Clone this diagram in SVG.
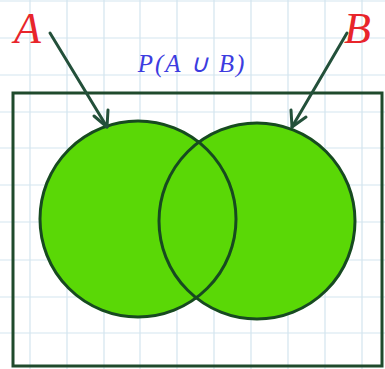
<svg xmlns="http://www.w3.org/2000/svg" width="385" height="369" viewBox="0 0 385 369">
<defs>
<style>
.grid line{stroke:#d3e5ef;stroke-width:1.2}
.frame{fill:none;stroke:#1f4a2c;stroke-width:3}
.set{fill:#5ad806;stroke:#174a20;stroke-width:3}
.conn{fill:none;stroke:#23503a;stroke-width:3;stroke-linecap:round;stroke-linejoin:round}
.lbl{font-family:"Liberation Serif",serif;font-style:italic;fill:#e8252b}
.title{font-family:"Liberation Serif",serif;font-style:italic;fill:#3c3ce0}
</style>
<clipPath id="clipB"><circle cx="257" cy="221" r="100"/></clipPath>
</defs>
<rect width="385" height="369" fill="#ffffff"/>
<g class="grid">
<line x1="30" y1="0" x2="30" y2="369"/><line x1="67" y1="0" x2="67" y2="369"/><line x1="104" y1="0" x2="104" y2="369"/><line x1="140" y1="0" x2="140" y2="369"/><line x1="177" y1="0" x2="177" y2="369"/><line x1="214" y1="0" x2="214" y2="369"/><line x1="251" y1="0" x2="251" y2="369"/><line x1="288" y1="0" x2="288" y2="369"/><line x1="325" y1="0" x2="325" y2="369"/><line x1="362" y1="0" x2="362" y2="369"/>
<line x1="0" y1="1" x2="385" y2="1"/><line x1="0" y1="38" x2="385" y2="38"/><line x1="0" y1="75" x2="385" y2="75"/><line x1="0" y1="112" x2="385" y2="112"/><line x1="0" y1="148" x2="385" y2="148"/><line x1="0" y1="185" x2="385" y2="185"/><line x1="0" y1="222" x2="385" y2="222"/><line x1="0" y1="260" x2="385" y2="260"/><line x1="0" y1="297" x2="385" y2="297"/><line x1="0" y1="333" x2="385" y2="333"/>
</g>
<rect id="universe" class="frame" x="13" y="93" width="369" height="273"/>
<g id="setA"><circle class="set" cx="138" cy="219" r="98"/></g>
<g id="setB"><circle class="set" cx="257" cy="221" r="98"/></g>
<g id="setAEdge"><circle cx="138" cy="219" r="98" fill="none" stroke="#174a20" stroke-width="3" clip-path="url(#clipB)"/></g>
<g id="connectors">
<path class="conn" d="M50 33 L107 127"/>
<path class="conn" d="M94 116 L107 127 L108 110"/>
<path class="conn" d="M347 33 L292 127"/>
<path class="conn" d="M291 110 L292 127 L306 117"/>
</g>
<g id="labelA"><text class="lbl" x="14" y="43" font-size="44">A</text></g>
<g id="labelB"><text class="lbl" x="344" y="43" font-size="44">B</text></g>
<g id="title"><text class="title" x="192" y="72" font-size="25" letter-spacing="2" text-anchor="middle">P(A ∪ B)</text></g>
</svg>
